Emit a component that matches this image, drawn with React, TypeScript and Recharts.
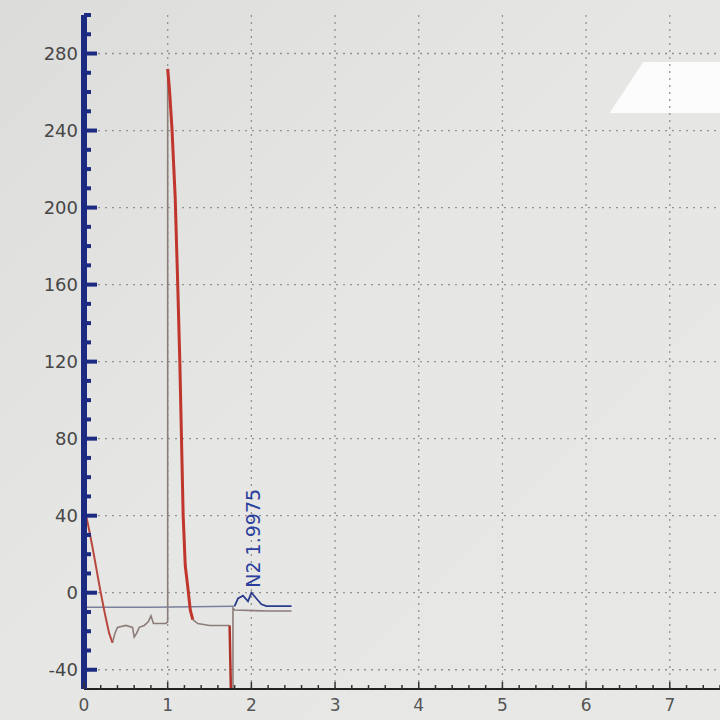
import React from 'react';
import {
  ComposedChart,
  Line,
  XAxis,
  YAxis,
  CartesianGrid,
  ReferenceDot,
} from 'recharts';

// chromatogram traces, [minutes, signal]
const startDip: [number, number][] = [
  [0, 45], [0.05, 35], [0.1, 24], [0.15, 12], [0.2, 0], [0.25, -11], [0.3, -21], [0.34, -26],
];
const grayLow: [number, number][] = [
  [0.34, -26], [0.37, -21], [0.4, -18], [0.5, -17], [0.58, -18], [0.6, -23], [0.63, -21],
  [0.66, -18], [0.72, -17], [0.77, -15], [0.8, -12], [0.83, -16], [0.9, -16], [0.98, -16],
  [1.0, -15], [1.0, 272],
];
const bigPeak: [number, number][] = [
  [1.0, 272], [1.02, 262], [1.05, 242], [1.09, 205], [1.12, 160], [1.145, 120], [1.165, 80],
  [1.185, 40], [1.21, 14], [1.24, 3], [1.27, -9], [1.3, -14],
];
const grayTail: [number, number][] = [
  [1.3, -14], [1.36, -16], [1.5, -17], [1.74, -17],
];
const redDrop: [number, number][] = [
  [1.74, -17], [1.755, -50],
];
const grayRise: [number, number][] = [
  [1.78, -50], [1.78, -8], [1.8, -9], [2.2, -9.5], [2.48, -9.5],
];
const baseline: [number, number][] = [
  [0, -7.5], [0.8, -7.5], [1.8, -7],
];
const n2Peak: [number, number][] = [
  [1.8, -7], [1.84, -3], [1.9, -1.5], [1.96, -4.5], [2.0, 0], [2.06, -3], [2.12, -6],
  [2.18, -7], [2.48, -7],
];

const yMajor = [-40, 0, 40, 80, 120, 160, 200, 240, 280];
const yTicks = Array.from({ length: 36 }, (_, i) => -50 + i * 10);
const xTicks = Array.from({ length: 39 }, (_, i) => Math.round(i * 2) / 10);
const gridX = [1, 2, 3, 4, 5, 6, 7];

const NAVY = '#1c2a82';
const AXIS_X = 84;
const AXIS_Y = 689;

const pts = (arr: [number, number][]) => arr.map(([x, y]) => ({ x, y }));

const YTick = (props: any) => {
  const { y, payload } = props;
  const v = payload.value;
  if (v === -50) return null;
  const major = yMajor.includes(v);
  return (
    <g>
      <line x1={AXIS_X} x2={AXIS_X + (major ? 13 : 7)} y1={y} y2={y} stroke={NAVY} strokeWidth={4} />
      {major && (
        <text x={AXIS_X - 6} y={y + 6} textAnchor="end" fontSize={18} fill="#474747" fontFamily="DejaVu Sans">
          {v}
        </text>
      )}
    </g>
  );
};

const XTick = (props: any) => {
  const { x, payload } = props;
  const v = payload.value;
  const major = Number.isInteger(v);
  return (
    <g>
      <line x1={x} x2={x} y1={AXIS_Y} y2={AXIS_Y - (major ? 7 : 4)} stroke="#333" strokeWidth={1.5} />
      {major && (
        <text x={x} y={AXIS_Y + 22} textAnchor="middle" fontSize={17} fill="#555" fontFamily="DejaVu Sans">
          {v}
        </text>
      )}
    </g>
  );
};

const N2Label = (props: any) => {
  const { viewBox } = props;
  const x = viewBox.x + viewBox.width / 2;
  const y = viewBox.y + viewBox.height / 2 - 5;
  return (
    <text
      x={x}
      y={y}
      transform={`rotate(-90 ${x} ${y})`}
      fontSize={19}
      fill="#2b3f9c"
      fontFamily="DejaVu Sans"
    >
      N2 1.9975
    </text>
  );
};

export default function App() {
  return (
    <div
      style={{
        position: 'fixed',
        left: 0,
        top: 0,
        width: 720,
        height: 720,
        background: 'linear-gradient(135deg, #dcdcda 0%, #e6e6e4 45%, #e8e9e6 100%)',
        overflow: 'hidden',
      }}
    >
      <div
        style={{
          position: 'absolute',
          left: 600,
          top: 62,
          width: 120,
          height: 51,
          background: '#fbfcfb',
          clipPath: 'polygon(36% 0, 100% 0, 100% 100%, 8% 100%)',
        }}
      />
      <ComposedChart width={720} height={720} margin={{ top: 15, right: 0, bottom: 0, left: 0 }}>
        <CartesianGrid
          horizontalValues={yMajor}
          verticalValues={gridX}
          stroke="#929292"
          strokeDasharray="2 5"
          strokeWidth={1.3}
        />
        <XAxis
          type="number"
          dataKey="x"
          domain={[0, 7.6]}
          ticks={xTicks}
          interval={0}
          height={31}
          tickLine={false}
          axisLine={{ stroke: '#222', strokeWidth: 2 }}
          tick={<XTick />}
          allowDataOverflow
        />
        <YAxis
          type="number"
          dataKey="y"
          domain={[-50, 300]}
          ticks={yTicks}
          interval={0}
          width={AXIS_X}
          tickLine={false}
          axisLine={{ stroke: NAVY, strokeWidth: 6 }}
          tick={<YTick />}
          allowDataOverflow
        />
        <Line data={pts(baseline)} dataKey="y" stroke="#7b809c" strokeWidth={1.5} dot={false} isAnimationActive={false} />
        <Line data={pts(grayLow)} dataKey="y" stroke="#8c7d7a" strokeWidth={1.6} dot={false} isAnimationActive={false} />
        <Line data={pts(grayTail)} dataKey="y" stroke="#8c7d7a" strokeWidth={1.6} dot={false} isAnimationActive={false} />
        <Line data={pts(grayRise)} dataKey="y" stroke="#8c7d7a" strokeWidth={1.6} dot={false} isAnimationActive={false} />
        <Line data={pts(startDip)} dataKey="y" stroke="#b8483f" strokeWidth={2} dot={false} isAnimationActive={false} />
        <Line data={pts(bigPeak)} dataKey="y" stroke="#c0352c" strokeWidth={3} dot={false} isAnimationActive={false} />
        <Line data={pts(redDrop)} dataKey="y" stroke="#b0302a" strokeWidth={2.5} dot={false} isAnimationActive={false} />
        <Line data={pts(n2Peak)} dataKey="y" stroke="#2b3c8f" strokeWidth={1.8} dot={false} isAnimationActive={false} />
        <ReferenceDot x={2.1} y={0} r={0} fill="none" stroke="none" label={<N2Label />} />
      </ComposedChart>
    </div>
  );
}
